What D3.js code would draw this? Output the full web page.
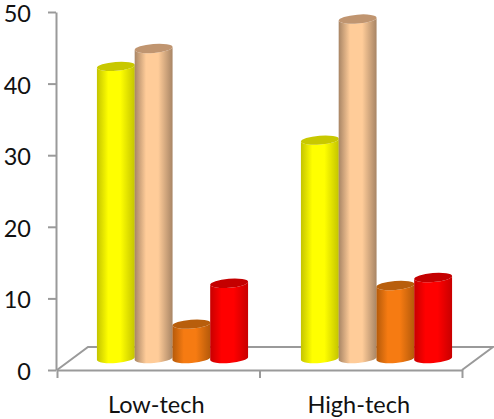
<!DOCTYPE html>
<html>
<head>
<meta charset="utf-8">
<script src="https://cdn.jsdelivr.net/npm/d3@7/dist/d3.min.js"></script>
<style>
  html, body { margin: 0; padding: 0; background: #fff; }
  svg { display: block; }
  text { font-family: Lato, "Open Sans", sans-serif; fill: #111; }
</style>
</head>
<body>
<svg id="chart" width="494" height="419"></svg>
<script>
// Chart values
const categories = ["Low-tech", "High-tech"];
const seriesKeys = ["a", "b", "c", "d"];
const seriesA = [40.8, 30.5];
const seriesB = [43.3, 47.4];
const seriesC = [4.8, 10.2];
const seriesD = [10.5, 11.3];
const yTicks = [0, 10, 20, 30, 40, 50];

// Shading per series: edge, centre, and cap colours
const edgeColors = ["#c4c400", "#a88565", "#b55a0a", "#c80000"];
const midColors = ["#ffff00", "#ffcc99", "#f67b12", "#ff0000"];
const capColors = ["#c8c800", "#c09570", "#b85e0c", "#c40000"];
const seriesValues = [seriesA, seriesB, seriesC, seriesD];

const svg = d3.select("#chart");

const y = d3.scaleLinear().domain([0, 50]).range([370, 12]);
const xAxisScale = d3.scaleLinear().domain([0, 2]).range([57, 462]);
const xGroup = d3.scaleBand().domain(categories).range([57, 462]);
const xBar = d3.scaleBand().domain(seriesKeys).range([0, 151]);

// Floor of the 3D plot
const depthX = 31, depthY = 23;
const axisGrey = "#9a9a9a";
const floorPts = [
  [xAxisScale(0), y(0)],
  [xAxisScale(0) + depthX, y(0) - depthY],
  [xAxisScale(2) + depthX, y(0) - depthY],
  [xAxisScale(2), y(0)]
];
svg.append("path")
  .attr("d", d3.line()(floorPts))
  .attr("fill", "none")
  .attr("stroke", axisGrey)
  .attr("stroke-width", 2);

// Axes
const yAxis = svg.append("g")
  .attr("transform", "translate(56,0)")
  .call(d3.axisLeft(y).tickValues(yTicks).tickSize(8).tickSizeOuter(0));
const xAxis = svg.append("g")
  .attr("transform", `translate(0,${y(0)})`)
  .call(d3.axisBottom(xAxisScale).tickValues([0, 1, 2]).tickSize(8).tickFormat("").tickSizeOuter(0));
[yAxis, xAxis].forEach(ax => {
  ax.selectAll("path,line").attr("stroke", axisGrey).attr("stroke-width", 2);
});
yAxis.selectAll("text")
  .attr("font-size", 23.5)
  .attr("x", -25)
  .attr("dy", "0.4em")
  .style("font-family", "Lato")
  .attr("fill", "#111");

// Category labels
svg.selectAll("text.cat")
  .data(categories)
  .join("text")
  .attr("class", "cat")
  .attr("x", d => xGroup(d) + xGroup.bandwidth() / 2 - 2)
  .attr("y", 412.5)
  .attr("text-anchor", "middle")
  .attr("font-size", 23.5)
  .text(d => d);

// Horizontal shading for each cylinder
const defs = svg.append("defs");
seriesKeys.forEach((k, i) => {
  const g = defs.append("linearGradient").attr("id", "shade-" + k);
  [[0, edgeColors[i]], [0.3, midColors[i]], [0.62, midColors[i]], [1, edgeColors[i]]]
    .forEach(([o, c]) => g.append("stop").attr("offset", o).attr("stop-color", c));
});

// Cylinders stand mid-way across the floor depth
const floorLift = 11.5;
const tilt = 4.5;
const rx = 19, ry = 4.5;
const tiltRad = tilt * Math.PI / 180;
const dx = rx * Math.cos(tiltRad), dy = rx * Math.sin(tiltRad);

const groupStart = { "Low-tech": 97.5, "High-tech": 301.5 };
const chartBars = svg.append("g");

categories.forEach((cat, c) => {
  seriesKeys.forEach((k, i) => {
    const cx = groupStart[cat] + xBar(k) + xBar.bandwidth() / 2 - 0.5;
    const topY = y(seriesValues[i][c]) - floorLift;
    const baseY = y(0) - floorLift;
    const body = `M${cx - dx},${topY + dy} L${cx - dx},${baseY + dy}` +
      ` A${rx},${ry} ${-tilt} 0 0 ${cx + dx},${baseY - dy}` +
      ` L${cx + dx},${topY - dy}` +
      ` A${rx},${ry} ${-tilt} 0 1 ${cx - dx},${topY + dy} Z`;
    chartBars.append("path").attr("d", body).attr("fill", `url(#shade-${k})`);
    chartBars.append("ellipse")
      .attr("rx", rx).attr("ry", ry)
      .attr("transform", `translate(${cx},${topY}) rotate(${-tilt})`)
      .attr("fill", capColors[i]);
  });
});
</script>
</body>
</html>
